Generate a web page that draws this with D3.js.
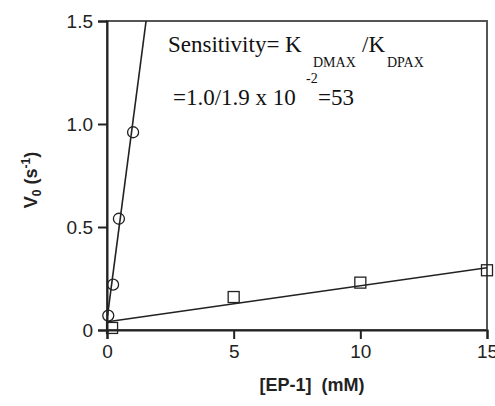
<!DOCTYPE html>
<html><head><meta charset="utf-8">
<script src="https://cdn.jsdelivr.net/npm/d3@7"></script>
<style>body{margin:0;background:#fff}svg{display:block}</style>
</head><body>
<svg id="c" width="495" height="406"></svg>
<script>
const circleX = [0.05, 0.24, 0.47, 1.03];
const circleY = [0.07, 0.22, 0.54, 0.96];
const squareX = [0.2, 5, 10, 15];
const squareY = [0.01, 0.16, 0.23, 0.29];
const circleFit = [0.05, 0.94];   // intercept, slope
const squareFit = [0.04, 0.0175];
const xTicks = [0, 5, 10, 15];
const yTicks = [0, 0.5, 1.0, 1.5];
const yTickLabels = ["0", "0.5", "1.0", "1.5"];

const svg = d3.select("#c");
const L = 107, R = 487, T = 21, B = 330;
const x = d3.scaleLinear().domain([0, 15]).range([L, R]);
const y = d3.scaleLinear().domain([0, 1.5]).range([B, T]);
const ink = "#222";

// frame
svg.append("rect").attr("x", L).attr("y", T).attr("width", R - L).attr("height", B - T)
  .attr("fill", "none").attr("stroke", "#555").attr("stroke-width", 2);

const xa = svg.append("g").attr("transform", `translate(0,${B})`)
  .call(d3.axisBottom(x).tickValues(xTicks).tickSize(9).tickPadding(6).tickFormat(d3.format("d")));
const ya = svg.append("g").attr("transform", `translate(${L},0)`)
  .call(d3.axisLeft(y).tickValues(yTicks).tickSize(9).tickPadding(5).tickFormat((d, i) => yTickLabels[i]));
[xa, ya].forEach(a => {
  a.select(".domain").attr("stroke", ink).attr("stroke-width", 2);
  a.selectAll(".tick line").attr("stroke", ink).attr("stroke-width", 2);
  a.selectAll(".tick text").attr("font-family", "Liberation Sans, Arial, sans-serif")
    .attr("font-size", 19).attr("fill", "#222");
});

// fit lines
const clip = svg.append("clipPath").attr("id", "pc").append("rect")
  .attr("x", L).attr("y", T).attr("width", R - L).attr("height", B - T);
function fitLine(f, x0, x1) {
  svg.append("line")
    .attr("x1", x(x0)).attr("y1", y(f[0] + f[1] * x0))
    .attr("x2", x(x1)).attr("y2", y(f[0] + f[1] * x1))
    .attr("stroke", ink).attr("stroke-width", 1.6).attr("clip-path", "url(#pc)");
}
fitLine(circleFit, 0.02, (1.5 - circleFit[0]) / circleFit[1]);
fitLine(squareFit, 0.02, 15);

// markers
svg.append("g").selectAll("circle").data(circleX).join("circle")
  .attr("cx", (d) => x(d)).attr("cy", (d, i) => y(circleY[i])).attr("r", 5.5)
  .attr("fill", "none").attr("stroke", ink).attr("stroke-width", 1.3);
svg.append("g").selectAll("rect").data(squareX).join("rect")
  .attr("x", (d) => x(d) - 5.5).attr("y", (d, i) => y(squareY[i]) - 5.5)
  .attr("width", 11).attr("height", 11)
  .attr("fill", "none").attr("stroke", ink).attr("stroke-width", 1.3);

// axis titles
const yl = svg.append("text").attr("transform", "translate(37,180) rotate(-90)")
  .attr("text-anchor", "middle").attr("font-family", "Liberation Sans, Arial, sans-serif")
  .attr("font-weight", "bold").attr("font-size", 18).attr("fill", "#222");
yl.append("tspan").text("V");
yl.append("tspan").attr("font-size", 12).attr("dy", 4).text("0");
yl.append("tspan").attr("dy", -4).text(" (s");
yl.append("tspan").attr("font-size", 12).attr("dy", -7).text("-1");
yl.append("tspan").attr("dy", 7).text(")");

svg.append("text").attr("x", 312).attr("y", 391).attr("text-anchor", "middle")
  .attr("font-family", "Liberation Sans, Arial, sans-serif").attr("font-weight", "bold")
  .attr("font-size", 18).attr("fill", "#222").attr("xml:space", "preserve")
  .text("[EP-1]  (mM)");

// annotation
const serif = "Liberation Serif, Times New Roman, serif";
function txt(s, xx, yy, fs) {
  svg.append("text").attr("x", xx).attr("y", yy).attr("font-family", serif)
    .attr("font-size", fs).attr("fill", "#111").text(s);
}
txt("Sensitivity= K", 168, 52, 23);
txt("DMAX", 313, 67, 14);
txt("/K", 362, 52, 23);
txt("DPAX", 387, 67, 14);
txt("=1.0/1.9 x 10", 173, 105, 23);
txt("-2", 306, 83, 14);
txt("=53", 318, 105, 23);
</script>
</body></html>
